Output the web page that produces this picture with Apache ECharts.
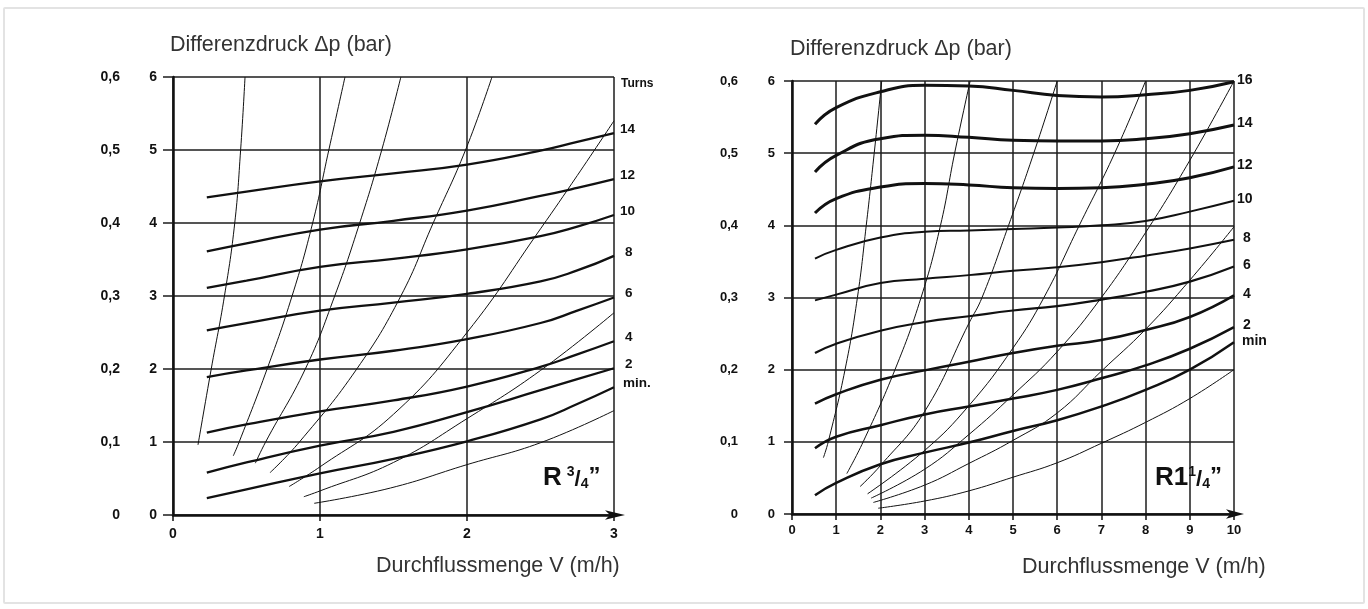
<!DOCTYPE html>
<html>
<head>
<meta charset="utf-8">
<script src="https://cdn.jsdelivr.net/npm/echarts@6/dist/echarts.min.js"></script>
<style>
html,body{margin:0;padding:0;background:#fff;}
#frame{position:absolute;left:3px;top:7px;width:1362px;height:597px;border:2px solid #e3e3e3;box-sizing:border-box;border-radius:2px;}
#chart{position:absolute;left:0;top:0;width:1368px;height:609px;}
</style>
</head>
<body>
<div id="frame"></div>
<div id="chart"></div>
<script>
// ---------- LEFT PANEL  R 3/4" ----------
const L_X = [0.23, 0.5, 1, 1.5, 2, 2.5, 2.75, 3];
const L_14  = [4.35, 4.43, 4.57, 4.68, 4.80, 4.99, 5.11, 5.23];
const L_12  = [3.61, 3.72, 3.91, 4.03, 4.17, 4.37, 4.48, 4.60];
const L_10  = [3.11, 3.21, 3.40, 3.51, 3.64, 3.82, 3.95, 4.11];
const L_8   = [2.53, 2.63, 2.80, 2.91, 3.03, 3.20, 3.35, 3.55];
const L_6   = [1.89, 1.98, 2.13, 2.25, 2.41, 2.63, 2.80, 2.98];
const L_4   = [1.13, 1.24, 1.42, 1.57, 1.76, 2.03, 2.20, 2.38];
const L_2   = [0.58, 0.72, 0.95, 1.14, 1.41, 1.71, 1.86, 2.01];
const L_MIN = [0.23, 0.35, 0.57, 0.77, 1.01, 1.31, 1.52, 1.75];
const L_TURN_NAMES = ['14', '12', '10', '8', '6', '4', '2', 'min.'];

// thin system curves [flow, dp]
const L_S1 = [[0.17,0.96],[0.26,2],[0.35,3],[0.42,4],[0.46,5],[0.49,6]];
const L_S2 = [[0.41,0.81],[0.45,1],[0.64,2],[0.81,3],[0.95,4],[1.06,5],[1.17,6]];
const L_S3 = [[0.56,0.71],[0.63,1],[0.90,2],[1.10,3],[1.27,4],[1.42,5],[1.55,6]];
const L_S4 = [[0.66,0.58],[0.86,1],[1.25,2],[1.55,3],[1.77,4],[1.99,5],[2.17,6]];
const L_S5 = [[0.79,0.39],[1.00,0.66],[1.50,1.38],[2.00,2.50],[2.50,3.92],[2.75,4.65],[3.00,5.40]];
const L_S6 = [[0.89,0.25],[1.00,0.33],[1.50,0.72],[2.00,1.32],[2.50,1.98],[3.00,2.77]];
const L_S7 = [[0.96,0.16],[1.48,0.37],[2.00,0.69],[2.50,0.99],[3.00,1.43]];

// ---------- RIGHT PANEL  R 1 1/4" ----------
const R_X = [0.52, 1, 2, 3, 4, 5, 6, 7, 8, 9, 10];
const R_16  = [5.40, 5.63, 5.85, 5.94, 5.93, 5.87, 5.80, 5.78, 5.81, 5.87, 5.99];
const R_14  = [4.74, 4.97, 5.20, 5.25, 5.22, 5.18, 5.17, 5.17, 5.20, 5.27, 5.39];
const R_12  = [4.17, 4.37, 4.53, 4.58, 4.56, 4.52, 4.51, 4.52, 4.57, 4.66, 4.81];
const R_10  = [3.54, 3.66, 3.83, 3.91, 3.93, 3.95, 3.97, 4.00, 4.06, 4.19, 4.34];
const R_8   = [2.96, 3.04, 3.20, 3.26, 3.31, 3.37, 3.42, 3.49, 3.58, 3.68, 3.80];
const R_6   = [2.23, 2.36, 2.54, 2.66, 2.74, 2.82, 2.88, 2.97, 3.08, 3.22, 3.43];
const R_4   = [1.53, 1.66, 1.86, 1.99, 2.11, 2.23, 2.33, 2.41, 2.55, 2.73, 3.03];
const R_2   = [0.91, 1.07, 1.23, 1.38, 1.49, 1.60, 1.72, 1.88, 2.06, 2.29, 2.59];
const R_MIN = [0.26, 0.43, 0.69, 0.85, 0.99, 1.15, 1.30, 1.49, 1.72, 2.00, 2.38];
const R_TURN_NAMES = ['16', '14', '12', '10', '8', '6', '4', '2', 'min'];

const R_S1 = [[0.71,0.78],[0.82,1],[1.20,2],[1.48,3],[1.68,4],[1.86,5],[2.03,6]];
const R_S2 = [[1.24,0.56],[1.61,1],[2.33,2],[2.92,3],[3.36,4],[3.68,5],[4.03,6]];
const R_S3 = [[1.54,0.38],[2.00,0.67],[3.00,1.42],[4.00,2.64],[4.30,3],[4.90,4],[5.47,5],[6.00,6]];
const R_S4 = [[1.71,0.28],[3.00,0.88],[4.00,1.50],[5.00,2.30],[5.70,3],[6.50,4],[7.30,5],[8.00,6]];
const R_S5 = [[1.79,0.22],[3.00,0.62],[4.00,1.10],[5.00,1.65],[6.00,2.25],[7.00,3.00],[8.00,3.90],[9.00,4.90],[10.00,6.00]];
const R_S6 = [[1.84,0.16],[3.00,0.40],[4.00,0.70],[5.00,1.02],[6.00,1.40],[7.00,1.98],[8.00,2.56],[9.00,3.24],[10.00,3.98]];
const R_S7 = [[1.95,0.08],[3.00,0.18],[4.00,0.32],[5.00,0.51],[6.00,0.71],[7.00,0.98],[8.00,1.27],[9.00,1.60],[10.00,2.00]];

// tick labels
const DP_TICKS  = ['0', '1', '2', '3', '4', '5', '6'];
const BAR_TICKS = ['0', '0,1', '0,2', '0,3', '0,4', '0,5', '0,6'];

// ---------- build ----------
const FONT = '"Liberation Sans", Arial, sans-serif';
const INK = '#111';
const GRID_INK = '#1c1c1c';

function xy(xs, ys) { return xs.map((x, i) => [x, ys[i]]); }

function turnSeries(name, xs, ys, panel, width, dist, dy, fs) {
  return {
    type: 'line', name: name, xAxisIndex: panel, yAxisIndex: panel * 2,
    data: xy(xs, ys), smooth: 0.5, symbol: 'none', silent: true, z: 4,
    lineStyle: { color: INK, width: width },
    endLabel: { show: true, formatter: name, distance: dist, offset: [0, dy],
      color: INK, fontWeight: 'bold', fontSize: fs, fontFamily: FONT }
  };
}
function sysSeries(pts, panel) {
  return {
    type: 'line', xAxisIndex: panel, yAxisIndex: panel * 2, data: pts,
    smooth: 0.45, symbol: 'none', silent: true, z: 3,
    lineStyle: { color: INK, width: 1 }
  };
}

function xAxisCfg(gi, max, labelMargin, arrowLen, arrowOff, fs) {
  return {
    type: 'value', gridIndex: gi, min: 0, max: max, interval: 1,
    axisLine: { show: true, onZero: false, symbol: ['none', 'arrow'], symbolSize: [7, arrowLen], symbolOffset: [0, arrowOff],
      lineStyle: { color: INK, width: 2.5 } },
    axisTick: { show: true, length: 6, lineStyle: { color: INK, width: 1.5 } },
    axisLabel: { color: INK, fontWeight: 'bold', fontSize: fs, fontFamily: FONT, margin: labelMargin },
    splitLine: { show: true, lineStyle: { color: GRID_INK, width: 1.5 } }
  };
}
function yAxisCfg(gi, tickLen, margin, fs) {
  return {
    type: 'value', gridIndex: gi, min: 0, max: 6, interval: 1, position: 'left',
    axisLine: { show: true, onZero: false, lineStyle: { color: INK, width: 2.5 } },
    axisTick: { show: true, length: tickLen, lineStyle: { color: GRID_INK, width: 1.5 } },
    axisLabel: { color: INK, fontWeight: 'bold', fontSize: fs, fontFamily: FONT, margin: margin,
      formatter: v => DP_TICKS[Math.round(v)] },
    splitLine: { show: true, lineStyle: { color: GRID_INK, width: 1.5 } }
  };
}
function barAxisCfg(gi, offset, margin, fs) {
  return {
    type: 'value', gridIndex: gi, min: 0, max: 6, interval: 1, position: 'left', offset: offset,
    axisLine: { show: false }, axisTick: { show: false }, splitLine: { show: false },
    axisLabel: { color: INK, fontWeight: 'bold', fontSize: fs, fontFamily: FONT, margin: margin,
      formatter: v => BAR_TICKS[Math.round(v)] }
  };
}

const L_TURNS = [L_14, L_12, L_10, L_8, L_6, L_4, L_2, L_MIN];
const L_LABEL_DIST = [6, 6, 6, 11, 11, 11, 11, 9];
const R_TURNS = [R_16, R_14, R_12, R_10, R_8, R_6, R_4, R_2, R_MIN];
const R_WIDTH = [3, 3, 3, 2, 2, 2.2, 2.5, 2.5, 2.5];
const R_LABEL_DIST = [3, 3, 3, 3, 9, 9, 9, 9, 8];

const series = [];
[L_S1, L_S2, L_S3, L_S4, L_S5, L_S6, L_S7].forEach(p => series.push(sysSeries(p, 0)));
L_TURNS.forEach((ys, i) => series.push(turnSeries(L_TURN_NAMES[i], L_X, ys, 0, 2.3, L_LABEL_DIST[i], -4, 13.5)));
[R_S1, R_S2, R_S3, R_S4, R_S5, R_S6, R_S7].forEach(p => series.push(sysSeries(p, 1)));
R_TURNS.forEach((ys, i) => series.push(turnSeries(R_TURN_NAMES[i], R_X, ys, 1, R_WIDTH[i], R_LABEL_DIST[i], -1.5, 14)));

const txt = (extra) => Object.assign({ color: '#333', fontWeight: 'normal', fontSize: 21.5, fontFamily: FONT }, extra || {});
const richR = {
  r: { fontSize: 26, fontWeight: 'bold', color: INK, fontFamily: FONT, verticalAlign: 'bottom' },
  s: { fontSize: 14, fontWeight: 'bold', color: INK, fontFamily: FONT, verticalAlign: 'top' },
  sl: { fontSize: 22, fontWeight: 'bold', color: INK, fontFamily: FONT, verticalAlign: 'bottom' },
  b: { fontSize: 14, fontWeight: 'bold', color: INK, fontFamily: FONT, verticalAlign: 'bottom' },
  q: { fontSize: 24, fontWeight: 'bold', color: INK, fontFamily: FONT, verticalAlign: 'top' }
};

const option = {
  animation: false,
  backgroundColor: 'transparent',
  title: [
    { text: 'Differenzdruck Δp (bar)', left: 170, top: 34, padding: 0, textStyle: txt() },
    { text: 'Differenzdruck Δp (bar)', left: 790, top: 38, padding: 0, textStyle: txt() },
    { text: 'Durchflussmenge V (m/h)', left: 376, top: 555, padding: 0, textStyle: txt() },
    { text: 'Durchflussmenge V (m/h)', left: 1022, top: 556, padding: 0, textStyle: txt() },
    { text: 'Turns', left: 621, top: 78, padding: 0, textStyle: { color: INK, fontWeight: 'bold', fontSize: 12, fontFamily: FONT } },
    { text: '{r|R} {s|3}{sl|/}{b|4}{q|”}', left: 543, top: 465, padding: 0, textStyle: { rich: richR } },
    { text: '{r|R1}{s|1}{sl|/}{b|4}{q|”}', left: 1155, top: 465, padding: 0, textStyle: { rich: richR } }
  ],
  grid: [
    { left: 173, top: 77, width: 441, height: 438 },
    { left: 792, top: 81, width: 442, height: 433 }
  ],
  xAxis: [ xAxisCfg(0, 3, 12, 20, 11, 14), xAxisCfg(1, 10, 10, 18, 10, 13) ],
  yAxis: [
    yAxisCfg(0, 10, 16, 14), barAxisCfg(0, 40, 13, 14),
    yAxisCfg(1, 8, 17, 13), barAxisCfg(1, 41, 13, 13)
  ],
  series: series
};

const chart = echarts.init(document.getElementById('chart'), null, { renderer: 'canvas' });
chart.setOption(option);
</script>
</body>
</html>
